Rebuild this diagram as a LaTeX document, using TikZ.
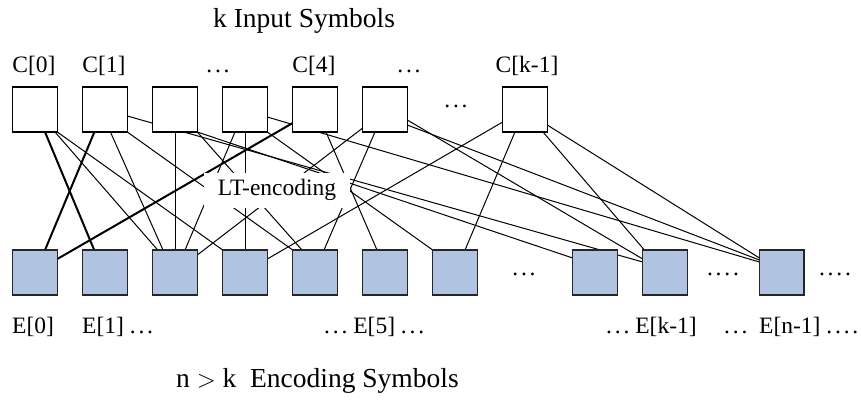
\documentclass[tikz,border=0pt]{standalone}
\usepackage{fontspec}
\setmainfont{Liberation Serif}
\usetikzlibrary{calc}
\pgfdeclarelayer{wires}
\pgfsetlayers{wires,main}
\definecolor{encblue}{RGB}{176,196,226}
\newcommand{\dotsthree}{.\kern.12em.\kern.12em.}
\newcommand{\dotsfour}{.\kern.12em.\kern.12em.\kern.12em.}

\begin{document}
\begin{tikzpicture}[x=1pt,y=-1pt,
  srcbox/.style={draw=black, line width=1.4pt, fill=white, minimum width=44.6pt,
                 minimum height=45pt, inner sep=0pt, outer sep=0pt},
  encbox/.style={srcbox, fill=encblue, draw=black!85},
  lbl/.style={font=\fontsize{23.5}{28}\selectfont, inner sep=0pt, anchor=base},
  lblw/.style={lbl, anchor=base west},
  title/.style={font=\fontsize{27.5}{32}\selectfont, inner sep=0pt, anchor=base west},
  wire/.style={line width=1pt},
  heavy/.style={line width=2pt}]
\useasboundingbox (0,0) rectangle (861,407);

% source symbols
\foreach \i in {0,...,5} \node[srcbox] (C\i) at (35+70*\i,109.5) {};
\node[srcbox] (Ck) at (525,109.5) {};

% encoding symbols
\foreach \i/\x in {0/35,1/105,2/175,3/245,4/315,5/385,6/455,7/595,8/665,9/781.7}
  \node[encbox] (E\i) at (\x,272.5) {};

% encoder label (white patch over the wires)
\node[fill=white, minimum width=146pt, minimum height=35pt, inner sep=0pt,
      font=\fontsize{23.5}{28}\selectfont] (lt) at (277,190) {LT-encoding};

% titles
\node[title] (ttop) at (213,27) {k Input Symbols};
\node[title] (tbot) at (176,387) {n \(>\) k\ \ Encoding Symbols};

% source labels
\node[lbl] (lc0) at (34,72) {C[0]};
\node[lbl] (lc1) at (104,72) {C[1]};
\node[lbl] (lcd1) at (218,72) {\dotsthree};
\node[lbl] (lc4) at (314,72) {C[4]};
\node[lbl] (lcd2) at (409,72) {\dotsthree};
\node[lbl] (lck) at (527,72) {C[k-1]};
\node[lbl] (lcd3) at (456,107) {\dotsthree};

% encoding labels
\node[lblw] (le0) at (12,333) {E[0]};
\node[lblw] (le1) at (82,333) {E[1] \dotsthree};
\node[lblw] (le5) at (324,333) {\dotsthree\ E[5] \dotsthree};
\node[lblw] (lek) at (606,333) {\dotsthree\ E[k-1]};
\node[lblw] (led) at (724,333) {\dotsthree};
\node[lblw] (len) at (759,333) {E[n-1] \dotsfour};

\node[lbl] (ed1) at (524,275) {\dotsthree};
\node[lbl] (ed2) at (723,275) {\dotsfour};
\node[lbl] (ed3) at (835,275) {\dotsfour};

\begin{pgfonlayer}{wires}
  % C[0]
  \draw[heavy] ($(C0.south west)+(32.3,0)$) -- ($(E1.north west)+(11.5,0)$);
  \draw[wire] ($(C0.south west)+(42.3,0)$) -- ($(E2.north west)+(5,0)$);
  \draw[wire] (C0.south east) -- (E3.north west);
  % C[1]
  \draw[heavy] ($(C1.south west)+(11.7,0)$) -- ($(E0.north west)+(32.3,0)$);
  \draw[wire] ($(C1.south west)+(27.7,0)$) -- ($(E2.north west)+(10.3,0)$);
  \draw[wire] (C1.south east) -- (E4.north west);
  \draw[wire] ($(C1.north east)+(0,29)$) -- ($(E8.north west)+(0,12)$);
  % C[2]
  \draw[wire] (C2.south) -- (E2.north);
  \draw[wire] (C2.south east) -- ($(E4.north west)+(9.3,0)$);
  \draw[wire] (C2.south east) -- ($(E7.north west)+(0,8)$);
  % C[3]
  \draw[wire] ($(C3.south west)+(12.3,0)$) -- ($(E2.north west)+(32.3,0)$);
  \draw[wire] (C3.south) -- (E3.north);
  \draw[wire] (C3.south east) -- (E6.north west);
  \draw[wire] ($(C3.north east)+(0,30)$) -- ($(E9.north west)+(0,12)$);
  % C[4]
  \draw[heavy] ($(C4.north west)+(0,36)$) -- ($(E0.north east)+(0,9)$);
  \draw[wire] ($(C4.south west)+(33.3,0)$) -- ($(E5.north west)+(14.3,0)$);
  % C[5]
  \draw[wire] ($(C5.south west)+(0,-4)$) -- ($(E2.north east)+(0,5)$);
  \draw[wire] ($(C5.south west)+(12.3,0)$) -- ($(E4.north west)+(31.3,0)$);
  \draw[wire] ($(C5.north east)+(0,38)$) -- ($(E9.north west)+(0,10)$);
  \draw[wire] ($(C5.north east)+(0,33)$) -- ($(E8.north west)+(0,9)$);
  % C[k-1]
  \draw[wire] ($(Ck.north west)+(0,35)$) -- ($(E3.north east)+(0,9)$);
  \draw[wire] ($(Ck.south west)+(12.3,0)$) -- ($(E6.north west)+(32.3,0)$);
  \draw[wire] ($(Ck.south west)+(40.3,0)$) -- ($(E8.north west)+(1.7,0)$);
  \draw[wire] ($(Ck.north east)+(0,38)$) -- ($(E9.north west)+(0,8)$);
\end{pgfonlayer}
\end{tikzpicture}
\end{document}
